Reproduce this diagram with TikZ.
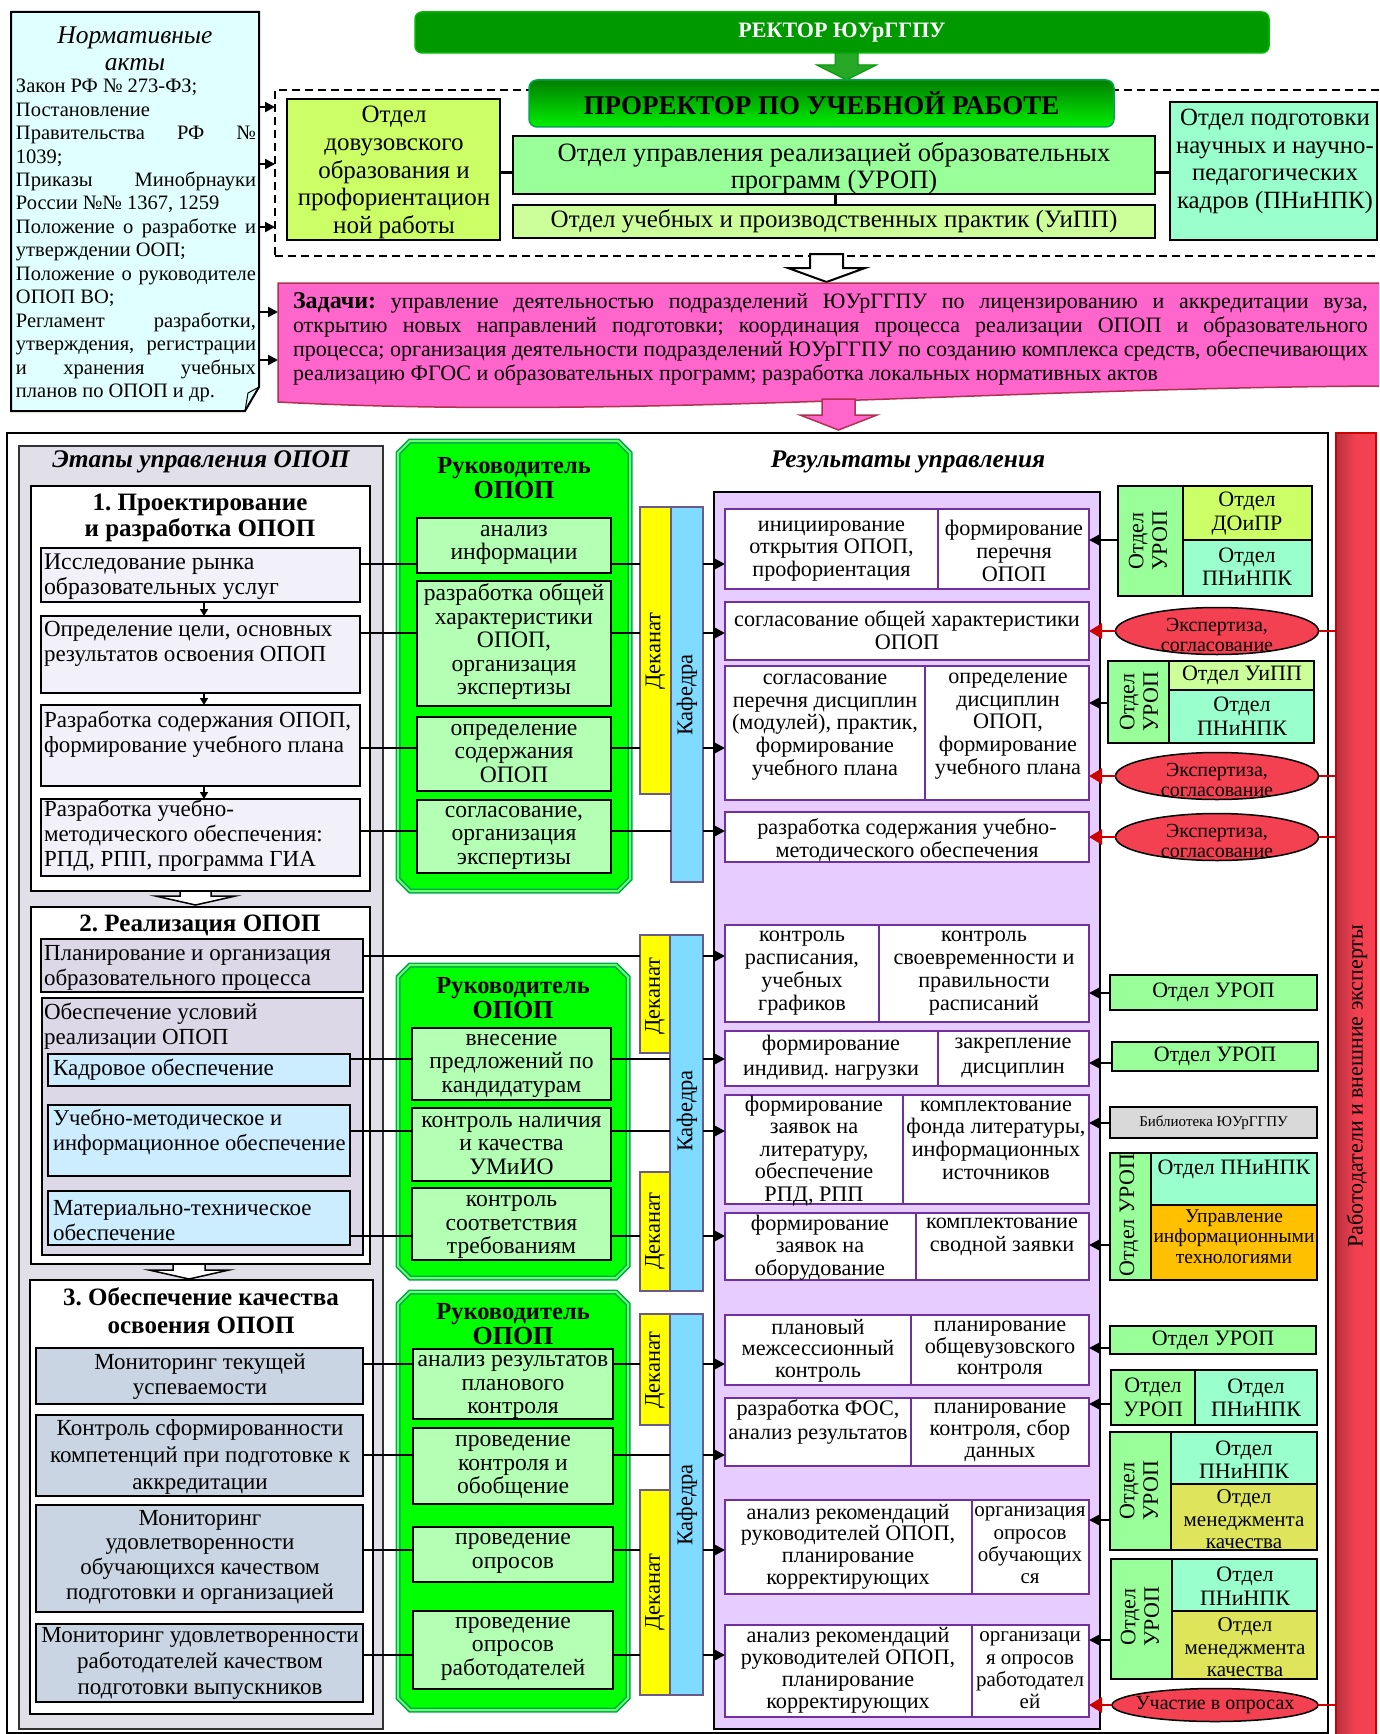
\documentclass[tikz,border=0pt]{standalone}
\usepackage{fontspec}
\setmainfont{Liberation Serif}
\usetikzlibrary{arrows.meta,shapes.geometric,calc}
\frenchspacing
\newcommand\FS[2]{\fontsize{#1}{#2}\selectfont}
\newcommand\FB{\FS{23}{25}}
\newcommand\FG{\FS{23.6}{23.5}}
\newcommand\FR{\FS{22}{23.5}}
\newcommand\FRS{\FS{22.2}{22.8}}
\newcommand\FD{\FS{22.5}{24}}
\newcommand\JL[1]{\makebox[240pt][s]{#1}}
\newcommand\LL[1]{\makebox[240pt][l]{#1}}
\newcommand\ZJ[1]{\makebox[1075pt][s]{#1}}
\newcommand\B[7]{\node[#6,minimum width={(#4)-(#2)},minimum height={(#5)-(#3)}] (#1) at ({((#2)+(#4))/2},{((#3)+(#5))/2}) {#7};}
\newcommand\T[5]{\node[tx,#4] (#1) at (#2,#3) {#5};}
\newcommand\BA[7]{\draw[#7] ({#1-#5},#2) -- ({#1+#5},#2) -- ({#1+#5},#3) -- ({#1+#6},#3) -- (#1,#4) -- ({#1-#6},#3) -- ({#1-#5},#3) -- cycle;}
\newcommand\GP[4]{\draw[gp] ({#1+12},#2) -- ({#3-12},#2) -- (#3,{#2+12}) -- (#3,{#4-12}) -- ({#3-12},#4) -- ({#1+12},#4) -- (#1,{#4-12}) -- (#1,{#2+12}) -- cycle;}
\definecolor{cRector}{HTML}{009900}
\definecolor{cPro1}{HTML}{007F00}
\definecolor{cPro2}{HTML}{00F000}
\definecolor{cDov}{HTML}{CCFF66}
\definecolor{cUrop}{HTML}{99FF99}
\definecolor{cUipp}{HTML}{CCFF99}
\definecolor{cPn}{HTML}{99FFCC}
\definecolor{cPink}{HTML}{FF66CC}
\definecolor{cPinkB}{HTML}{B03050}
\definecolor{cNorm}{HTML}{E0FFFF}
\definecolor{cPanel}{HTML}{E1DFE8}
\definecolor{cS1}{HTML}{F2F0F8}
\definecolor{cS2}{HTML}{DCD8E8}
\definecolor{cS2i}{HTML}{CCECFF}
\definecolor{cS3}{HTML}{C9D5E3}
\definecolor{cGreen}{HTML}{00FF00}
\definecolor{cGreenB}{HTML}{00A650}
\definecolor{cGsub}{HTML}{B3FFB3}
\definecolor{cDek}{HTML}{FFFF00}
\definecolor{cKaf}{HTML}{7FDBFF}
\definecolor{cBarB}{HTML}{6A5A8A}
\definecolor{cRes}{HTML}{E6CCFF}
\definecolor{cResB}{HTML}{7030A0}
\definecolor{cRed}{HTML}{F44152}
\definecolor{cRedA}{HTML}{CC0000}
\definecolor{cLib}{HTML}{D9D9D9}
\definecolor{cOrange}{HTML}{FFC000}
\definecolor{cOlive}{HTML}{DFE55A}
\begin{document}
\begin{tikzpicture}[x=1pt,y=-1pt,
  bx/.style={draw=black,line width=2pt,inner sep=0pt,outer sep=0pt,align=center},
  rb/.style={draw=cResB,line width=2pt,fill=white,inner sep=0pt,outer sep=0pt},
  bar/.style={draw=cBarB,line width=2pt,inner sep=0pt,outer sep=0pt},
  tx/.style={inner sep=0pt,outer sep=0pt,align=center},
  conn/.style={line width=2.2pt},
  arr/.style={line width=2.2pt,-{Triangle[length=10pt,width=10pt]}},
  sarr/.style={line width=1.5pt,-{Triangle[length=7pt,width=8pt]}},
  rarr/.style={line width=2.5pt,draw=cRedA,-{Triangle[length=13pt,width=15pt,fill=cRedA]}},
  rline/.style={line width=2.5pt,draw=cRedA},
  ell/.style={ellipse,draw=black,line width=1.5pt,fill=cRed,inner sep=0pt,outer sep=0pt,minimum width=203pt,minimum height=47pt},
  gp/.style={fill=cGreen,draw=cGreenB,double=green!60!white,double distance=2pt,line width=1.5pt},
]
\useasboundingbox (0,0) rectangle (1379,1734);
\fill[white] (0,0) rectangle (1379,1734);
\clip (0,0) rectangle (1379,1734);

% ===== top part =====
\B{frame}{275}{90}{1420}{256}{draw,dash pattern=on 8pt off 5pt,line width=1.5pt,inner sep=0pt,outer sep=0pt}{}
\B{rector}{415}{12}{1269}{53}{bx,fill=cRector,draw=cRector!70!cGreen,line width=1.5pt,rounded corners=7pt,text=white,font=\bfseries\FS{22}{24}}{РЕКТОР ЮУрГГПУ}
\BA{846.5}{53}{65}{80}{11.5}{30}{fill=cRector!85!white,draw=cRector,line width=1pt}
\B{prorector}{529}{80}{1114}{127}{bx,top color=cPro1,bottom color=cPro2,draw=cGreenB,line width=1.5pt,rounded corners=8pt,font=\bfseries\FS{27}{29}}{ПРОРЕКТОР ПО УЧЕБНОЙ РАБОТЕ}

\B{dov}{287}{99}{500}{240}{bx,fill=cDov}{}
\T{dovT}{394}{172.5}{font=\FS{25}{27.7}}{Отдел\\довузовского\\образования и\\профориентацион\\ной работы}
\B{urop}{513}{136}{1155}{194}{bx,fill=cUrop}{}
\T{uropT}{834}{168.5}{font=\FS{26.5}{27}}{Отдел управления реализацией образовательных\\программ (УРОП)}
\B{uipp}{513}{205}{1155}{238}{bx,fill=cUipp,font=\FS{25}{27}}{Отдел учебных и производственных практик (УиПП)}
\B{pn}{1170}{102}{1377}{240}{bx,fill=cPn}{}
\T{pnT}{1275}{161.5}{font=\FS{24.8}{27.7}}{Отдел подготовки\\научных и научно-\\педагогических\\кадров (ПНиНПК)}
\draw[conn,line width=3pt] (dov.east |- 0,172) -- (urop.west |- 0,172);
\draw[conn,line width=3pt] (urop.south -| 835,0) -- (uipp.north -| 835,0);
\draw[conn,line width=3pt] (urop.east |- 0,172) -- (pn.west |- 0,172);

% normative acts
\B{norm}{11}{12}{259}{411}{inner sep=0pt,outer sep=0pt}{}
\draw[line width=2pt,fill=cNorm] (11,12) -- (259,12) -- (259,387) -- (245,411) -- (11,411) -- cycle;
\draw[line width=1pt] (245,411) -- (248,393) -- (259,387);
\T{normTitle}{135}{48.5}{font=\itshape\FS{25.5}{27}}{Нормативные\\акты}
\T{normT}{136}{240.5}{align=left,font=\FS{20.5}{23.46}}{\LL{Закон РФ № 273-ФЗ;}\\
\LL{Постановление}\\
\JL{Правительства РФ №}\\
\LL{1039;}\\
\JL{Приказы Минобрнауки}\\
\LL{России №№ 1367, 1259}\\
\JL{Положение о разработке и}\\
\LL{утверждении ООП;}\\
\JL{Положение о руководителе}\\
\LL{ОПОП ВО;}\\
\JL{Регламент разработки,}\\
\JL{утверждения, регистрации}\\
\JL{и хранения учебных}\\
\LL{планов по ОПОП и др.}}

% tasks
\B{zad}{278}{283}{1379}{402}{inner sep=0pt,outer sep=0pt}{}
\BA{826.5}{254}{268}{282}{16.5}{38.5}{fill=white,draw=black,line width=2pt}
\draw[fill=cPink,draw=cPinkB,line width=1.5pt] (278,283) -- (1382,283) -- (1382,386) .. controls (1000,388) and (620,420) .. (278,402) -- cycle;
\T{zadT}{830.5}{338.5}{align=left,font=\FS{22}{24}}{\ZJ{{\bfseries\FS{24}{24}Задачи:} управление деятельностью подразделений ЮУрГГПУ по лицензированию и аккредитации вуза,}\\
\ZJ{открытию новых направлений подготовки; координация процесса реализации ОПОП и образовательного}\\
\ZJ{процесса; организация деятельности подразделений ЮУрГГПУ по созданию комплекса средств, обеспечивающих}\\
\makebox[1075pt][l]{реализацию ФГОС и образовательных программ; разработка локальных нормативных актов}}
\BA{838.5}{399}{415}{430}{16.5}{38.5}{fill=cPink,draw=cPinkB,line width=1.5pt}

\draw[arr] (norm.east |- 0,107) -- (frame.west |- 0,107);
\draw[arr] (norm.east |- 0,164) -- (frame.west |- 0,164);
\draw[arr] (norm.east |- 0,227) -- (frame.west |- 0,227);
\draw[arr] (norm.east |- 0,312) -- (zad.west |- 0,312);
\draw[arr] (norm.east |- 0,360) -- (zad.west |- 0,360);

% ===== lower part =====
\B{outer}{7}{433}{1328}{1733}{draw=black,line width=1.5pt,inner sep=0pt,outer sep=0pt}{}
\B{rbar}{1336}{433}{1376}{1740}{bx,left color=cRed!75!black,right color=cRed,middle color=cRed,draw=cRedA,line width=2pt}{}
\T{rbarT}{1357}{1086}{rotate=90,font=\FS{22}{24}}{Работодатели и внешние эксперты}

% stages panel
\B{panel}{19}{446}{383}{1729}{bx,fill=cPanel,draw=black!80,line width=2.5pt}{}
\T{panelT}{201}{462}{font=\bfseries\itshape\FS{25.4}{26}}{Этапы управления ОПОП}

\B{st1}{31}{486}{370}{891}{bx,fill=white}{}
\T{st1T}{200}{518}{font=\bfseries\FS{25}{26}}{1. Проектирование\\и разработка ОПОП}
\B{s1a}{41}{548}{360}{602}{bx,fill=cS1}{}
\T{s1aT}{44}{576.5}{anchor=west,align=left,font=\FS{23.8}{25}}{Исследование рынка\\образовательных услуг}
\B{s1b}{41}{616}{360}{693}{bx,fill=cS1}{}
\T{s1bT}{44}{643.5}{anchor=west,align=left,font=\FB}{Определение цели, основных\\результатов освоения ОПОП}
\B{s1c}{41}{705}{360}{786}{bx,fill=cS1}{}
\T{s1cT}{44}{734}{anchor=west,align=left,font=\FB}{Разработка содержания ОПОП,\\формирование учебного плана}
\B{s1d}{41}{799}{360}{876}{bx,fill=cS1}{}
\T{s1dT}{44}{835.5}{anchor=west,align=left,font=\FB}{Разработка учебно-\\методического обеспечения:\\РПД, РПП, программа ГИА}
\draw[sarr] (s1a.south -| 204,0) -- (s1b.north -| 204,0);
\draw[sarr] (s1b.south -| 204,0) -- (s1c.north -| 204,0);
\draw[sarr] (s1c.south -| 204,0) -- (s1d.north -| 204,0);
\BA{195.5}{891}{896}{905}{15.5}{40}{fill=white,draw=black,line width=1.5pt}

\B{st2}{31}{907}{370}{1264}{bx,fill=white}{}
\T{st2T}{200}{925}{font=\bfseries\FS{25}{26}}{2. Реализация ОПОП}
\B{s2a}{41}{939}{363}{992}{bx,fill=cS2}{}
\T{s2aT}{44}{968}{anchor=west,align=left,font=\FB}{Планирование и организация\\образовательного процесса}
\B{s2b}{42}{998}{363}{1255}{bx,fill=cS2}{}
\T{s2bT}{44}{1026.5}{anchor=west,align=left,font=\FB}{Обеспечение условий\\реализации ОПОП}
\B{s2c}{48}{1054}{350}{1086}{bx,fill=cS2i}{}
\T{s2cT}{53}{1070}{anchor=west,font=\FB}{Кадровое обеспечение}
\B{s2d}{48}{1105}{350}{1176}{bx,fill=cS2i}{}
\T{s2dT}{53}{1132.5}{anchor=west,align=left,font=\FS{22.6}{25}}{Учебно-методическое и\\информационное обеспечение}
\B{s2e}{48}{1191}{350}{1245}{bx,fill=cS2i}{}
\T{s2eT}{53}{1220.5}{anchor=west,align=left,font=\FB}{Материально-техническое\\обеспечение}
\BA{189}{1264}{1270}{1279}{16}{40}{fill=white,draw=black,line width=1.5pt}

\B{st3}{30}{1280}{373}{1714}{bx,fill=white}{}
\T{st3T}{201}{1311}{font=\bfseries\FS{25}{28}}{3. Обеспечение качества\\освоения ОПОП}
\B{s3a}{36}{1348}{363}{1404}{bx,fill=cS3}{}
\T{s3aT}{200}{1376.5}{font=\FS{23}{25.5}}{Мониторинг текущей\\успеваемости}
\B{s3b}{36}{1415}{363}{1496}{bx,fill=cS3}{}
\T{s3bT}{200}{1457}{font=\FS{23}{27}}{Контроль сформированности\\компетенций при подготовке к\\аккредитации}
\B{s3c}{36}{1505}{363}{1612}{bx,fill=cS3}{}
\T{s3cT}{200}{1557}{font=\FS{23}{24.7}}{Мониторинг\\удовлетворенности\\обучающихся качеством\\подготовки и организацией}
\B{s3d}{36}{1624}{363}{1702}{bx,fill=cS3}{}
\T{s3dT}{200}{1663}{font=\FS{23}{26}}{Мониторинг удовлетворенности\\работодателей качеством\\подготовки выпускников}

% green panels
\GP{398}{441}{630}{891}
\T{g1T}{514}{478.5}{font=\bfseries\FS{24}{25}}{{\FS{24.5}{25}Руководитель}\\{\FS{26}{25}ОПОП}}
\B{g1a}{417}{518}{611}{573}{bx,fill=cGsub}{}
\T{g1aT}{514}{545}{font=\FG}{анализ\\информации}
\B{g1b}{417}{581}{611}{706}{bx,fill=cGsub}{}
\T{g1bT}{514}{642}{font=\FG}{разработка общей\\характеристики\\ОПОП,\\организация\\экспертизы}
\B{g1c}{417}{717}{611}{791}{bx,fill=cGsub}{}
\T{g1cT}{514}{753.5}{font=\FG}{определение\\содержания\\ОПОП}
\B{g1d}{417}{800}{611}{873}{bx,fill=cGsub}{}
\T{g1dT}{514}{837.5}{font=\FG}{согласование,\\организация\\экспертизы}

\GP{398}{965}{628}{1278}
\T{g2T}{513}{998.5}{font=\bfseries\FS{24}{25}}{{\FS{24.5}{25}Руководитель}\\{\FS{26}{25}ОПОП}}
\B{g2a}{412}{1028}{611}{1100}{bx,fill=cGsub}{}
\T{g2aT}{511.5}{1065.5}{font=\FG}{внесение\\предложений по\\кандидатурам}
\B{g2b}{412}{1108}{611}{1181}{bx,fill=cGsub}{}
\T{g2bT}{511.5}{1145.5}{font=\FG}{контроль наличия\\и качества\\УМиИО}
\B{g2c}{412}{1188}{611}{1260}{bx,fill=cGsub}{}
\T{g2cT}{511.5}{1227}{font=\FG}{контроль\\соответствия\\требованиям}

\GP{398}{1292}{628}{1710}
\T{g3T}{513}{1324.5}{font=\bfseries\FS{24}{25}}{{\FS{24.5}{25}Руководитель}\\{\FS{26}{25}ОПОП}}
\B{g3a}{413}{1349}{613}{1419}{bx,fill=cGsub}{}
\T{g3aT}{513}{1387}{font=\FG}{анализ результатов\\планового\\контроля}
\B{g3b}{413}{1428}{613}{1504}{bx,fill=cGsub}{}
\T{g3bT}{513}{1467}{font=\FG}{проведение\\контроля и\\обобщение}
\B{g3c}{413}{1527}{613}{1582}{bx,fill=cGsub}{}
\T{g3cT}{513}{1553.5}{font=\FG}{проведение\\опросов}
\B{g3d}{413}{1611}{613}{1689}{bx,fill=cGsub}{}
\T{g3dT}{513}{1648.5}{font=\FG}{проведение\\опросов\\работодателей}

% dean / chair bars
\B{k1}{671}{507}{703}{882}{bar,fill=cKaf}{}
\B{d1}{640}{507}{671}{794}{bar,fill=cDek}{}
\T{d1T}{655.5}{651}{rotate=90,font=\FD}{Деканат}
\T{k1T}{687}{695}{rotate=90,font=\FD}{Кафедра}
\B{k2}{670}{935}{703}{1291}{bar,fill=cKaf}{}
\B{d2a}{640}{935}{670}{1053}{bar,fill=cDek}{}
\B{d2b}{640}{1172}{670}{1291}{bar,fill=cDek}{}
\T{d2aT}{655}{996}{rotate=90,font=\FD}{Деканат}
\T{d2bT}{655}{1231}{rotate=90,font=\FD}{Деканат}
\T{k2T}{687}{1111}{rotate=90,font=\FD}{Кафедра}
\B{k3}{670}{1314}{703}{1695}{bar,fill=cKaf}{}
\B{d3a}{640}{1314}{670}{1425}{bar,fill=cDek}{}
\B{d3b}{640}{1490}{670}{1695}{bar,fill=cDek}{}
\T{d3aT}{655}{1370}{rotate=90,font=\FD}{Деканат}
\T{d3bT}{655}{1592}{rotate=90,font=\FD}{Деканат}
\T{k3T}{687}{1505}{rotate=90,font=\FD}{Кафедра}

% results panel
\B{res}{714}{492}{1100}{1729}{bx,fill=cRes}{}
\T{resT}{908}{462}{font=\bfseries\itshape\FS{25.4}{26}}{Результаты управления}
\B{r1l}{725}{509}{938}{589}{rb}{}
\B{r1r}{938}{509}{1089}{589}{rb}{}
\T{r1lT}{831.5}{551}{font=\FRS}{инициирование\\открытия ОПОП,\\профориентация}
\T{r1rT}{1014}{551}{font=\FRS}{формирование\\перечня\\ОПОП}
\B{r2}{725}{602}{1089}{660}{rb}{}
\T{r2T}{907}{630.5}{font=\FRS}{согласование общей характеристики\\ОПОП}
\B{r3l}{725}{666}{925}{800}{rb}{}
\B{r3r}{925}{666}{1089}{800}{rb}{}
\T{r3lT}{825}{727}{font=\FRS}{согласование\\перечня дисциплин\\(модулей), практик,\\формирование\\учебного плана}
\T{r3rT}{1008}{726}{font=\FRS}{определение\\дисциплин\\ОПОП,\\формирование\\учебного плана}
\B{r4}{725}{812}{1089}{862}{rb}{}
\T{r4T}{907}{840.5}{font=\FRS}{разработка содержания учебно-\\методического обеспечения}
\B{r5l}{725}{925}{879}{1022}{rb}{}
\B{r5r}{879}{925}{1089}{1022}{rb}{}
\T{r5lT}{802}{973}{font=\FRS}{контроль\\расписания,\\учебных\\графиков}
\T{r5rT}{984}{973}{font=\FRS}{контроль\\своевременности и\\правильности\\расписаний}
\B{r6l}{725}{1031}{938}{1086}{rb}{}
\B{r6r}{938}{1031}{1089}{1086}{rb}{}
\T{r6lT}{831}{1057.5}{font=\FS{22.2}{25}}{формирование\\индивид. нагрузки}
\T{r6rT}{1013}{1057.5}{font=\FS{22.2}{25}}{закрепление\\дисциплин}
\B{r7l}{725}{1095}{903}{1204}{rb}{}
\B{r7r}{903}{1095}{1089}{1204}{rb}{}
\T{r7lT}{814}{1151}{font=\FS{22.2}{22.5}}{формирование\\заявок на\\литературу,\\обеспечение\\РПД, РПП}
\T{r7rT}{996}{1140}{font=\FS{22.2}{22.7}}{комплектование\\фонда литературы,\\информационных\\источников}
\B{r8l}{725}{1213}{916}{1280}{rb}{}
\B{r8r}{916}{1213}{1089}{1280}{rb}{}
\T{r8lT}{820}{1247.5}{font=\FS{22.2}{22.5}}{формирование\\заявок на\\оборудование}
\T{r8rT}{1002}{1236.5}{font=\FS{22.2}{23}}{комплектование\\сводной заявки}
\B{r9l}{725}{1315}{911}{1385}{rb}{}
\B{r9r}{911}{1315}{1089}{1385}{rb}{}
\T{r9lT}{818}{1350.5}{font=\FS{22.2}{21.5}}{плановый\\межсессионный\\контроль}
\T{r9rT}{1000}{1350.5}{font=\FS{22.2}{21.5}}{планирование\\общевузовского\\контроля}
\B{r10l}{725}{1398}{911}{1466}{rb}{}
\B{r10r}{911}{1398}{1089}{1466}{rb}{}
\T{r10lT}{818}{1422}{font=\FS{22.2}{24}}{разработка ФОС,\\анализ результатов}
\T{r10rT}{1000}{1432}{font=\FS{22.2}{22}}{планирование\\контроля, сбор\\данных}
\B{r11l}{725}{1500}{972}{1594}{rb}{}
\B{r11r}{972}{1500}{1089}{1594}{rb}{}
\T{r11lT}{848}{1546.5}{font=\FS{22.2}{21.7}}{анализ рекомендаций\\руководителей ОПОП,\\планирование\\корректирующих}
\T{r11rT}{1030}{1545.5}{font=\FS{21}{22.3}}{организация\\опросов\\обучающих\\ся}
\B{r12l}{725}{1625}{972}{1717}{rb}{}
\B{r12r}{972}{1625}{1089}{1717}{rb}{}
\T{r12lT}{848}{1670}{font=\FS{22.2}{22}}{анализ рекомендаций\\руководителей ОПОП,\\планирование\\корректирующих}
\T{r12rT}{1030}{1670.5}{font=\FS{21}{22.3}}{организаци\\я опросов\\работодател\\ей}

% right-side departments
\B{q1a}{1118}{486}{1183}{596}{bx,fill=cUrop}{}
\B{q1b}{1183}{486}{1312}{540}{bx,fill=cDov}{}
\B{q1c}{1183}{540}{1312}{596}{bx,fill=cPn}{}
\T{q1aT}{1148}{541}{rotate=90,font=\FR}{Отдел\\УРОП}
\T{q1bT}{1247}{513.5}{font=\FR}{Отдел\\ДОиПР}
\T{q1cT}{1247}{566.5}{font=\FR}{Отдел\\ПНиНПК}
\node[ell] (e1) at (1217,631) {};
\T{e1T}{1217}{635}{font=\FS{20}{19.5}}{Экспертиза,\\согласование}
\B{q2a}{1108}{661}{1169}{743}{bx,fill=cUrop}{}
\B{q2b}{1169}{661}{1314}{690}{bx,fill=cUipp}{}
\B{q2c}{1169}{690}{1314}{743}{bx,fill=cPn}{}
\T{q2aT}{1139}{702}{rotate=90,font=\FR}{Отдел\\УРОП}
\T{q2bT}{1242}{675.5}{font=\FR}{Отдел УиПП}
\T{q2cT}{1242}{716}{font=\FR}{Отдел\\ПНиНПК}
\node[ell] (e2) at (1217,776) {};
\T{e2T}{1217}{780}{font=\FS{20}{19.5}}{Экспертиза,\\согласование}
\node[ell] (e3) at (1217,837) {};
\T{e3T}{1217}{841}{font=\FS{20}{19.5}}{Экспертиза,\\согласование}

\B{u1}{1110}{975}{1317}{1010}{bx,fill=cUrop,font=\FR}{Отдел УРОП}
\B{u2}{1112}{1042}{1318}{1071}{bx,fill=cUrop,font=\FR}{Отдел УРОП}
\B{lib}{1110}{1107}{1317}{1138}{bx,fill=cLib,font=\FS{15}{17}}{Библиотека ЮУрГГПУ}
\B{q3a}{1110}{1153}{1151}{1280}{bx,fill=cUrop}{}
\B{q3b}{1151}{1153}{1317}{1205}{bx,fill=cPn}{}
\B{q3c}{1151}{1205}{1317}{1280}{bx,fill=cOrange}{}
\T{q3aT}{1129}{1215}{rotate=90,font=\FR}{Отдел УРОП}
\T{q3bT}{1234}{1169}{font=\FR}{Отдел ПНиНПК}
\T{q3cT}{1234}{1236.5}{font=\FS{19.5}{20.5}}{Управление\\информационными\\технологиями}

\B{u3}{1110}{1326}{1316}{1354}{bx,fill=cUrop,font=\FR}{Отдел УРОП}
\B{q4a}{1111}{1370}{1195}{1425}{bx,fill=cUrop}{}
\B{q4b}{1195}{1370}{1317}{1425}{bx,fill=cPn}{}
\T{q4aT}{1153}{1397.5}{font=\FR}{Отдел\\УРОП}
\T{q4bT}{1256}{1397.5}{font=\FR}{Отдел\\ПНиНПК}
\B{q5a}{1110}{1432}{1171}{1550}{bx,fill=cUrop}{}
\B{q5b}{1171}{1432}{1317}{1484}{bx,fill=cPn}{}
\B{q5c}{1171}{1484}{1317}{1550}{bx,fill=cOlive}{}
\T{q5aT}{1139}{1491}{rotate=90,font=\FR}{Отдел\\УРОП}
\T{q5bT}{1244}{1459.5}{font=\FR}{Отдел\\ПНиНПК}
\T{q5cT}{1244}{1519.5}{font=\FS{21}{22.5}}{Отдел\\менеджмента\\качества}
\B{q6a}{1111}{1559}{1172}{1679}{bx,fill=cUrop}{}
\B{q6b}{1172}{1559}{1317}{1611}{bx,fill=cPn}{}
\B{q6c}{1172}{1611}{1317}{1679}{bx,fill=cOlive}{}
\T{q6aT}{1140}{1617}{rotate=90,font=\FR}{Отдел\\УРОП}
\T{q6bT}{1245}{1586}{font=\FR}{Отдел\\ПНиНПК}
\T{q6cT}{1245}{1647.5}{font=\FS{21}{22.5}}{Отдел\\менеджмента\\качества}
\node[ell,minimum width=206pt,minimum height=33pt] (e4) at (1215,1705) {};
\T{e4T}{1215}{1705}{font=\FS{20}{20}}{Участие в опросах}

% ===== connectors: stage 1 =====
\draw[conn] (s1a.east |- 0,564) -- (g1a.west |- 0,564);
\draw[conn] (s1b.east |- 0,633) -- (g1b.west |- 0,633);
\draw[conn] (s1c.east |- 0,748) -- (g1c.west |- 0,748);
\draw[conn] (s1d.east |- 0,831) -- (g1d.west |- 0,831);
\draw[conn] (g1a.east |- 0,564) -- (d1.west |- 0,564);
\draw[conn] (g1b.east |- 0,633) -- (d1.west |- 0,633);
\draw[conn] (g1c.east |- 0,748) -- (d1.west |- 0,748);
\draw[conn] (g1d.east |- 0,831) -- (k1.west |- 0,831);
\draw[arr] (k1.east |- 0,564) -- (r1l.west |- 0,564);
\draw[arr] (k1.east |- 0,633) -- (r2.west |- 0,633);
\draw[arr] (k1.east |- 0,748) -- (r3l.west |- 0,748);
\draw[arr] (k1.east |- 0,831) -- (r4.west |- 0,831);
% stage 2
\draw[conn] (s2a.east |- 0,956) -- (d2a.west |- 0,956);
\draw[conn] (s2c.east |- 0,1059) -- (g2a.west |- 0,1059);
\draw[conn] (s2d.east |- 0,1131) -- (g2b.west |- 0,1131);
\draw[conn] (s2e.east |- 0,1236) -- (g2c.west |- 0,1236);
\draw[conn] (g2a.east |- 0,1059) -- (k2.west |- 0,1059);
\draw[conn] (g2b.east |- 0,1131) -- (k2.west |- 0,1131);
\draw[conn] (g2c.east |- 0,1236) -- (d2b.west |- 0,1236);
\draw[arr] (k2.east |- 0,956) -- (r5l.west |- 0,956);
\draw[arr] (k2.east |- 0,1059) -- (r6l.west |- 0,1059);
\draw[arr] (k2.east |- 0,1131) -- (r7l.west |- 0,1131);
\draw[arr] (k2.east |- 0,1236) -- (r8l.west |- 0,1236);
% stage 3
\draw[conn] (s3a.east |- 0,1364) -- (g3a.west |- 0,1364);
\draw[conn] (s3b.east |- 0,1455) -- (g3b.west |- 0,1455);
\draw[conn] (s3c.east |- 0,1550) -- (g3c.west |- 0,1550);
\draw[conn] (s3d.east |- 0,1655) -- (g3d.west |- 0,1655);
\draw[conn] (g3a.east |- 0,1364) -- (d3a.west |- 0,1364);
\draw[conn] (g3b.east |- 0,1455) -- (k3.west |- 0,1455);
\draw[conn] (g3c.east |- 0,1550) -- (d3b.west |- 0,1550);
\draw[conn] (g3d.east |- 0,1655) -- (d3b.west |- 0,1655);
\draw[arr] (k3.east |- 0,1364) -- (r9l.west |- 0,1364);
\draw[arr] (k3.east |- 0,1455) -- (r10l.west |- 0,1455);
\draw[arr] (k3.east |- 0,1550) -- (r11l.west |- 0,1550);
\draw[arr] (k3.east |- 0,1655) -- (r12l.west |- 0,1655);
% right side
\draw[arr] (q1a.west |- 0,540) -- (r1r.east |- 0,540);
\draw[arr] (q2a.west |- 0,703) -- (r3r.east |- 0,703);
\draw[arr] (u1.west |- 0,993) -- (r5r.east |- 0,993);
\draw[arr] (u2.west |- 0,1063) -- (r6r.east |- 0,1063);
\draw[arr] (lib.west |- 0,1123) -- (r7r.east |- 0,1123);
\draw[arr] (q3a.west |- 0,1245) -- (r8r.east |- 0,1245);
\draw[arr] (u3.west |- 0,1348) -- (r9r.east |- 0,1348);
\draw[arr] (q4a.west |- 0,1404) -- (r10r.east |- 0,1404);
\draw[arr] (q5a.west |- 0,1520) -- (r11r.east |- 0,1520);
\draw[arr] (q6a.west |- 0,1640) -- (r12r.east |- 0,1640);
\draw[rline] (e1.east) -- (rbar.west |- e1.east);
\draw[rline] (e2.east) -- (rbar.west |- e2.east);
\draw[rline] (e3.east) -- (rbar.west |- e3.east);
\draw[rline] (e4.east) -- (rbar.west |- e4.east);
\draw[rarr] (e1.west) -- (r2.east |- e1.west);
\draw[rarr] (e2.west) -- (r3r.east |- e2.west);
\draw[rarr] (e3.west) -- (r4.east |- e3.west);
\draw[rarr] (e4.west) -- (r12r.east |- e4.west);
\end{tikzpicture}
\end{document}
